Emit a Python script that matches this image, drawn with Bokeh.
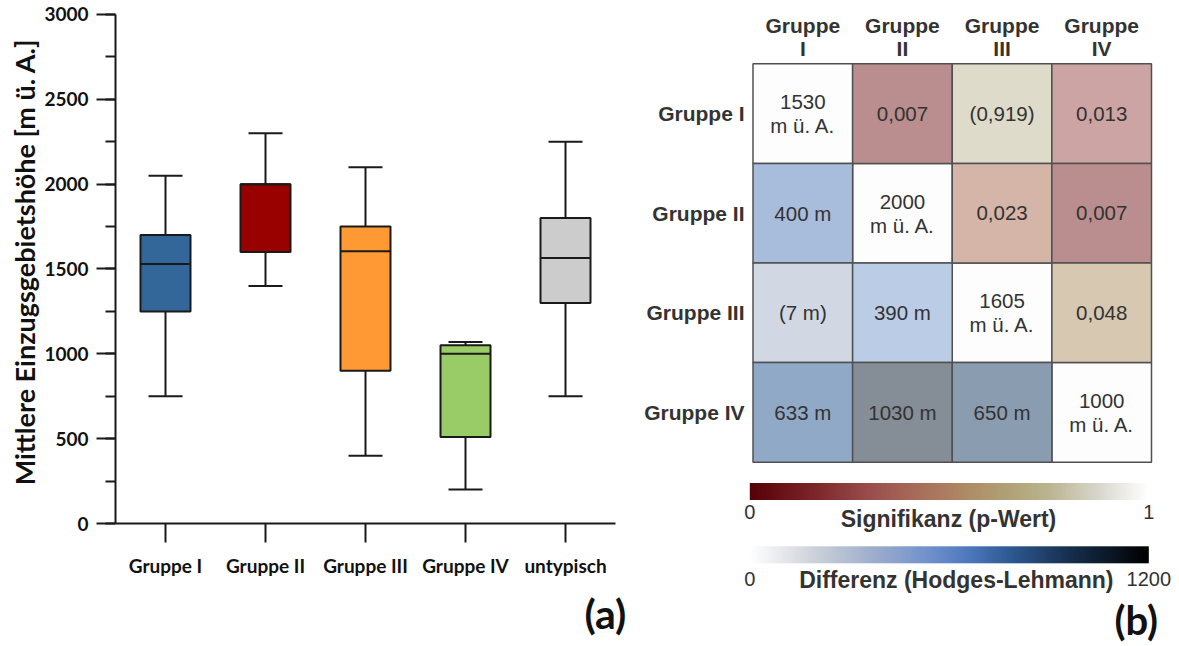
import numpy as np
from bokeh.plotting import figure
from bokeh.models import (ColumnDataSource, FactorRange, Range1d, SingleIntervalTicker,
                          FixedTicker, LinearColorMapper, ColorBar, Title, Whisker, TeeHead)
from bokeh.layouts import row
from bokeh.embed import file_html
from bokeh.resources import INLINE
from bokeh.core.properties import value

# ---------------- data, panel (a) ----------------
categories = ["Gruppe I", "Gruppe II", "Gruppe III", "Gruppe IV", "untypisch"]
whisker_low = [750, 1400, 400, 200, 750]
q1 = [1250, 1600, 900, 510, 1300]
median = [1530, 2000, 1605, 1000, 1565]
q3 = [1700, 2000, 1750, 1050, 1800]
whisker_high = [2050, 2300, 2100, 1070, 2250]

# ---------------- data, panel (b) ----------------
groups = ["Gruppe I", "Gruppe II", "Gruppe III", "Gruppe IV"]
group_median = [1530, 2000, 1605, 1000]
p_row = ["Gruppe I", "Gruppe I", "Gruppe I", "Gruppe II", "Gruppe II", "Gruppe III"]
p_col = ["Gruppe II", "Gruppe III", "Gruppe IV", "Gruppe III", "Gruppe IV", "Gruppe IV"]
p_value = [0.007, 0.919, 0.013, 0.023, 0.007, 0.048]
d_row = ["Gruppe II", "Gruppe III", "Gruppe III", "Gruppe IV", "Gruppe IV", "Gruppe IV"]
d_col = ["Gruppe I", "Gruppe I", "Gruppe II", "Gruppe I", "Gruppe II", "Gruppe III"]
hl_diff = [400, 7, 390, 633, 1030, 650]
p_scale = [0, 1]
d_scale = [0, 1200]

# ---------------- styles ----------------
box_colors = ["#336699", "#990000", "#FF9933", "#99CC66", "#CCCCCC"]
p_fill = ["#BA8E8E", "#DEDBCB", "#CBA4A3", "#D4B5A8", "#BA8E8E", "#D6C8B1"]
d_fill = ["#A8BCDC", "#D1D8E4", "#BACCE6", "#90A9C6", "#858D96", "#8A9CB0"]
diag_fill = "#FDFDFD"
p_stops = [(0.0, "#560007"), (0.15, "#7A2226"), (0.30, "#9A4E4C"), (0.42, "#A86C5A"),
           (0.55, "#AE8C66"), (0.65, "#B0A277"), (0.75, "#BBB491"), (0.88, "#D9D8CF"),
           (1.0, "#FFFFFF")]
d_stops = [(0.0, "#FFFFFF"), (0.15, "#D0D4DC"), (0.30, "#A0B0CC"), (0.45, "#7090CC"),
           (0.55, "#4E78BC"), (0.65, "#2E5A94"), (0.80, "#17304F"), (1.0, "#000000")]


def ramp(stops, n=256):
    pos = [s for s, _ in stops]
    rgb = [[int(c[i:i + 2], 16) for i in (1, 3, 5)] for _, c in stops]
    t = np.linspace(0, 1, n)
    ch = [np.interp(t, pos, [c[k] for c in rgb]) for k in range(3)]
    return ["#%02x%02x%02x" % (int(round(a)), int(round(b)), int(round(c)))
            for a, b, c in zip(*ch)]


AX = "#1a1a1a"
TXT = "#333333"
LEFT_FONT = "Lato"
RIGHT_FONT = "Liberation Sans"
H = 644

# ================= panel (a) =================
pa = figure(width=636, height=H, output_backend="svg", toolbar_location=None,
            x_range=FactorRange(*categories), y_range=Range1d(0, 3082.5),
            min_border_left=115, min_border_right=21, min_border_top=0,
            min_border_bottom=121, frame_align=False)
pa.outline_line_color = None
pa.grid.visible = False

src = ColumnDataSource(dict(cat=categories, low=whisker_low, q1=q1, med=median, q3=q3,
                            high=whisker_high, color=box_colors))

wh = Whisker(base="cat", lower="low", upper="high", source=src, level="underlay",
             line_color=AX, line_width=2,
             upper_head=TeeHead(size=34, line_color=AX, line_width=2),
             lower_head=TeeHead(size=34, line_color=AX, line_width=2))
pa.add_layout(wh)
pa.vbar(x="cat", bottom="q1", top="q3", width=0.5, fill_color="color",
        line_color=AX, line_width=2, source=src)
pa.vbar(x="cat", bottom="med", top="med", width=0.5, fill_color=None,
        line_color=AX, line_width=2, source=src)

ya = pa.yaxis[0]
ya.ticker = SingleIntervalTicker(interval=500, num_minor_ticks=2)
ya.bounds = (0, 3000)
ya.axis_label = "Mittlere Einzugsgebietshöhe [m ü. A.]"
ya.axis_label_text_font = LEFT_FONT
ya.axis_label_text_font_style = "bold"
ya.axis_label_text_font_size = "27px"
ya.axis_label_text_color = "#111111"
ya.axis_label_standoff = 0
ya.major_label_text_font = LEFT_FONT
ya.major_label_text_font_style = "bold"
ya.major_label_text_font_size = "19px"
ya.major_label_text_color = "#111111"
ya.major_label_standoff = 8
ya.major_tick_out = 19
ya.major_tick_in = 0
ya.minor_tick_out = 10
ya.minor_tick_in = 0
ya.axis_line_width = 2
ya.major_tick_line_width = 2
ya.minor_tick_line_width = 2
ya.axis_line_color = AX
ya.major_tick_line_color = AX
ya.minor_tick_line_color = AX

xa = pa.xaxis[0]
xa.major_label_text_font = LEFT_FONT
xa.major_label_text_font_style = "bold"
xa.major_label_text_font_size = "19px"
xa.major_label_text_color = "#111111"
xa.major_label_standoff = 11
xa.major_tick_out = 19
xa.major_tick_in = 0
xa.axis_line_width = 2
xa.major_tick_line_width = 2
xa.axis_line_color = AX
xa.major_tick_line_color = AX

pa.add_layout(Title(text="(a)", align="left", offset=469, standoff=14,
                    text_font=LEFT_FONT, text_font_style="bold",
                    text_font_size="41px", text_color="#111111"), "below")

# ================= panel (b) =================
CW, CH = 99.625, 99.6
WB = 535
X0, Y0 = 752.5 - 636, 63.3      # grid origin inside the figure (pixels)
pb = figure(width=WB, height=H, output_backend="svg", toolbar_location=None,
            x_range=Range1d(-X0 / CW, (WB - X0) / CW),
            y_range=Range1d((H - Y0) / CH, -Y0 / CH),
            min_border=0, x_axis_type=None, y_axis_type=None, frame_align=False)
pb.outline_line_color = None
pb.grid.visible = False

idx = {g: i for i, g in enumerate(groups)}


def fmt_p(p):
    s = ("%.3f" % p).replace(".", ",")
    return s if p < 0.05 else "(" + s + ")"


def fmt_d(d, p):
    s = "%d m" % d
    return s if p < 0.05 else "(" + s + ")"


p_lookup = {}
for r, c, p in zip(p_row, p_col, p_value):
    p_lookup[(r, c)] = p
    p_lookup[(c, r)] = p

cx, cy, fill, label = [], [], [], []
for g, m in zip(groups, group_median):
    cx.append(idx[g] + 0.5); cy.append(idx[g] + 0.5)
    fill.append(diag_fill); label.append("%d\nm ü. A." % m)
for r, c, p, f in zip(p_row, p_col, p_value, p_fill):
    cx.append(idx[c] + 0.5); cy.append(idx[r] + 0.5)
    fill.append(f); label.append(fmt_p(p))
for r, c, d, f in zip(d_row, d_col, hl_diff, d_fill):
    cx.append(idx[c] + 0.5); cy.append(idx[r] + 0.5)
    fill.append(f); label.append(fmt_d(d, p_lookup[(r, c)]))

csrc = ColumnDataSource(dict(x=cx, y=cy, fill=fill, label=label))
pb.rect(x="x", y="y", width=1, height=1, fill_color="fill", line_color="#505050",
        line_width=1.5, source=csrc)
pb.text(x="x", y="y", text="label", source=csrc, text_align="center",
        text_baseline="middle", text_font=value(RIGHT_FONT), text_font_size="20.5px",
        text_color=TXT, text_line_height=1.05)

# column headers and row labels
hsrc = ColumnDataSource(dict(x=[idx[g] + 0.5 for g in groups], y=[0] * len(groups),
                             t=[g.replace(" ", "\n") for g in groups]))
pb.text(x="x", y="y", text="t", source=hsrc, y_offset=-26.4, text_align="center",
        text_baseline="middle", text_font=value(RIGHT_FONT), text_font_style="bold",
        text_font_size="21px", text_color=TXT, text_line_height=1.0)
rsrc = ColumnDataSource(dict(x=[0] * len(groups), y=[idx[g] + 0.5 for g in groups], t=groups))
pb.text(x="x", y="y", text="t", source=rsrc, x_offset=-8.5, text_align="right",
        text_baseline="middle", text_font=value(RIGHT_FONT), text_font_style="bold",
        text_font_size="21px", text_color=TXT)

# colour bars
p_mapper = LinearColorMapper(palette=ramp(p_stops), low=p_scale[0], high=p_scale[1])
d_mapper = LinearColorMapper(palette=ramp(d_stops), low=d_scale[0], high=d_scale[1])

cb_common = dict(orientation="horizontal", width=399, height=17, padding=0, margin=0,
                 major_tick_line_color=None, minor_tick_line_color=None, bar_line_color=None,
                 border_line_color=None, background_fill_alpha=0,
                 major_label_text_font=RIGHT_FONT, major_label_text_font_size="20px",
                 major_label_text_color=TXT)
cb1 = ColorBar(color_mapper=p_mapper, ticker=FixedTicker(ticks=p_scale),
               location=(749.3 - 636, 122.5), label_standoff=5, **cb_common)
cb2 = ColorBar(color_mapper=d_mapper, ticker=FixedTicker(ticks=d_scale),
               location=(749.3 - 636, 55.2), label_standoff=9, **cb_common)
pb.add_layout(cb1)
pb.add_layout(cb2)

tsrc = ColumnDataSource(dict(x=[(948 - 752.5) / CW, (955.8 - 752.5) / CW],
                             y=[(518 - 63.3) / CH, (579 - 63.3) / CH],
                             t=["Signifikanz (p-Wert)", "Differenz (Hodges-Lehmann)"]))
pb.text(x="x", y="y", text="t", source=tsrc, text_align="center", text_baseline="middle",
        text_font=value(RIGHT_FONT), text_font_style="bold", text_font_size="23px",
        text_color=TXT)
pb.text(x=[(1114 - 752.5) / CW], y=[(619 - 63.3) / CH], text=["(b)"], text_align="left",
        text_baseline="middle", text_font=value(LEFT_FONT), text_font_style="bold",
        text_font_size="40px", text_color="#111111")

layout = row(pa, pb)
open("out.html", "w").write(file_html(layout, INLINE))
